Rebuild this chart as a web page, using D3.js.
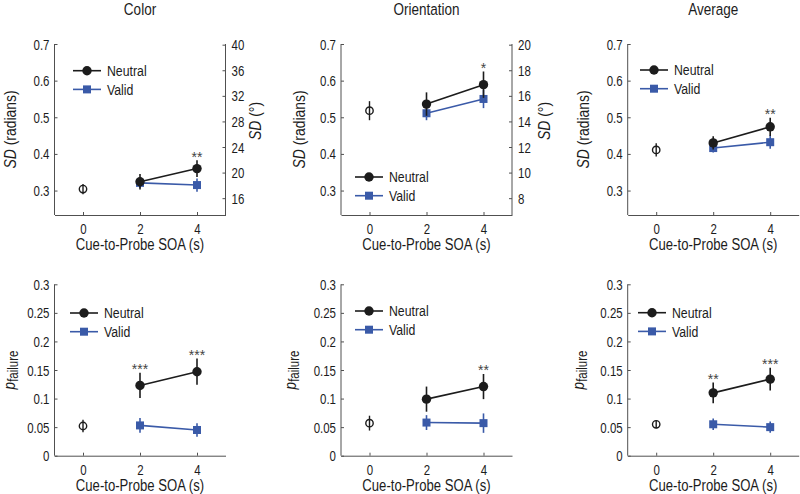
<!DOCTYPE html>
<html>
<head>
<meta charset="utf-8">
<script src="https://cdn.jsdelivr.net/npm/d3@7"></script>
<style>
  html, body { margin: 0; padding: 0; background: #fff; }
  svg { display: block; font-family: "Liberation Sans", Arial, sans-serif; }
</style>
</head>
<body>
<svg id="chart" width="800" height="494"></svg>
<script>
// ---------------- DATA ----------------
const panelTitles = ["Color", "Orientation", "Average"];
const soa = [2, 4];
const baselineX = 0;
const xTicks = [0, 2, 4];
const sdTicks = [0.3, 0.4, 0.5, 0.6, 0.7];
const pTicks = [0, 0.05, 0.1, 0.15, 0.2, 0.25, 0.3];
const pTickLabels = ["0", "0.05", "0.1", "0.15", "0.2", "0.25", "0.3"];
const degTicksColor = [16, 20, 24, 28, 32, 36, 40];
const degTicksOrientation = [8, 10, 12, 14, 16, 18, 20];
const seriesNames = ["Neutral", "Valid"];

// SD (radians) — top row
const sdBaseline = [0.304, 0.518, 0.411];
const sdBaselineErr = [0.014, 0.026, 0.018];
const sdNeutral = [[0.324, 0.360], [0.536, 0.589], [0.430, 0.474]];
const sdNeutralErr = [[0.021, 0.023], [0.032, 0.036], [0.018, 0.025]];
const sdValid = [[0.321, 0.315], [0.511, 0.550], [0.416, 0.432]];
const sdValidErr = [[0.014, 0.018], [0.019, 0.025], [0.012, 0.018]];
const sdStars = [["", "**"], ["", "*"], ["", "**"]];

// p_failure — bottom row
const pBaseline = [0.052, 0.057, 0.055];
const pBaselineErr = [0.011, 0.013, 0.007];
const pNeutral = [[0.123, 0.147], [0.099, 0.121], [0.110, 0.134]];
const pNeutralErr = [[0.022, 0.023], [0.022, 0.022], [0.018, 0.020]];
const pValid = [[0.053, 0.045], [0.058, 0.057], [0.055, 0.050]];
const pValidErr = [[0.013, 0.012], [0.013, 0.017], [0.010, 0.010]];
const pStars = [["***", "***"], ["", "**"], ["**", "***"]];

// ---------------- LAYOUT ----------------
const svg = d3.select("#chart");
const NARROW = 0.82;
const BLACK = "#1c1c1c";
const BLUE = "#3a5aa8";
const AXIS = "#505050";
const plotLefts = [54.5, 341, 627.7];
const plotW = 171;
const yLabelOffsets = [[38.5, 36, 39], [40, 45, 44]];

// condense text horizontally (Arial Narrow look)
function narrow(sel) {
  sel.each(function () {
    const t = d3.select(this);
    const x = +t.attr("x") || 0, y = +t.attr("y") || 0;
    const tr = t.attr("transform") || "";
    t.attr("x", 0).attr("y", 0).attr("transform", `${tr} translate(${x},${y}) scale(${NARROW},1)`);
  });
  return sel;
}

const rows = [
  { top: 44, bottom: 215, domain: [0.2333, 0.7], ticks: sdTicks, tickFmt: d3.format(".1f"),
    base: sdBaseline, baseErr: sdBaselineErr, neu: sdNeutral, neuErr: sdNeutralErr,
    val: sdValid, valErr: sdValidErr, stars: sdStars, label: "sd",
    legend: [[18.5, 26.7], [14, 133], [12.3, 26]] },
  { top: 284.3, bottom: 455.7, domain: [0, 0.3], ticks: pTicks, tickFmt: (d, i) => pTickLabels[i],
    base: pBaseline, baseErr: pBaselineErr, neu: pNeutral, neuErr: pNeutralErr,
    val: pValid, valErr: pValidErr, stars: pStars, label: "p",
    legend: [[15.5, 28.7], [14, 26.7], [10.3, 28.4]] }
];
const rightAxes = [
  { ticks: degTicksColor, factor: 180 / Math.PI, lab: 35 },
  { ticks: degTicksOrientation, factor: 90 / Math.PI, lab: 38 },
  null
];

// titles
panelTitles.forEach((t, i) => {
  narrow(svg.append("text").attr("x", plotLefts[i] + plotW / 2).attr("y", 15)
    .attr("text-anchor", "middle").attr("font-size", 16.5).attr("fill", BLACK).text(t));
});

rows.forEach((row, r) => {
  panelTitles.forEach((title, p) => {
    const left = plotLefts[p];
    const x = d3.scaleLinear().domain([-1, 5]).range([left, left + plotW]);
    const y = d3.scaleLinear().domain(row.domain).range([row.bottom, row.top]);
    const g = svg.append("g");

    // left axis
    const ax = g.append("g").attr("transform", `translate(${left},0)`)
      .call(d3.axisLeft(y).tickValues(row.ticks).tickSizeInner(-3).tickSizeOuter(0).tickPadding(5)
        .tickFormat(row.tickFmt));
    ax.attr("font-family", null).attr("font-size", null);
    ax.select(".domain").attr("stroke", AXIS).attr("d", `M0,${row.top}V${row.bottom}`);
    ax.selectAll(".tick line").attr("stroke", AXIS);
    narrow(ax.selectAll(".tick text").attr("font-size", 14).attr("fill", BLACK).attr("dy", "0.36em"));

    // bottom axis
    const bx = g.append("g").attr("transform", `translate(0,${row.bottom})`)
      .call(d3.axisBottom(x).tickValues(xTicks).tickSizeInner(-3).tickSizeOuter(0).tickPadding(19)
        .tickFormat(d3.format("d")));
    bx.attr("font-family", null).attr("font-size", null);
    bx.select(".domain").attr("stroke", AXIS);
    bx.selectAll(".tick line").attr("stroke", AXIS);
    narrow(bx.selectAll(".tick text").attr("font-size", 14).attr("fill", BLACK).attr("dy", "0"));

    // x label
    narrow(g.append("text").attr("x", left + plotW / 2).attr("y", row.bottom + 35)
      .attr("text-anchor", "middle").attr("font-size", 16).attr("fill", BLACK)
      .text("Cue-to-Probe SOA (s)"));

    // y label
    const yl = g.append("text")
      .attr("transform", `translate(${left - yLabelOffsets[r][p]},${(row.top + row.bottom) / 2}) rotate(-90) scale(${NARROW},1)`)
      .attr("text-anchor", "middle").attr("fill", BLACK);
    if (row.label === "sd") {
      yl.attr("font-size", 17);
      yl.append("tspan").attr("font-style", "italic").text("SD");
      yl.append("tspan").text(" (radians)");
    } else {
      yl.append("tspan").attr("font-style", "italic").attr("font-size", 16.5).text("p");
      yl.append("tspan").attr("font-size", 14).attr("dy", 3).text("failure");
    }

    // right axis (top row, color & orientation)
    const ra = r === 0 ? rightAxes[p] : null;
    if (ra) {
      const yd = d3.scaleLinear().domain(row.domain.map(v => v * ra.factor)).range([row.bottom, row.top]);
      const rx = g.append("g").attr("transform", `translate(${left + plotW},0)`)
        .call(d3.axisRight(yd).tickValues(ra.ticks).tickSizeInner(-3).tickSizeOuter(0).tickPadding(6));
      rx.attr("font-family", null).attr("font-size", null);
      rx.select(".domain").attr("stroke", AXIS).attr("d", `M0,${row.top}V${row.bottom}`);
      rx.selectAll(".tick line").attr("stroke", AXIS);
      narrow(rx.selectAll(".tick text").attr("font-size", 14).attr("fill", BLACK).attr("dy", "0.36em"));
      const rl = g.append("text")
        .attr("transform", `translate(${left + plotW + ra.lab},121) rotate(-90) scale(${NARROW},1)`)
        .attr("text-anchor", "middle").attr("font-size", 17).attr("fill", BLACK);
      rl.append("tspan").attr("font-style", "italic").text("SD");
      rl.append("tspan").text(" (°)");
    }

    // series (valid first so neutral draws on top)
    const series = [
      { vals: row.val[p], errs: row.valErr[p], color: BLUE, shape: "square" },
      { vals: row.neu[p], errs: row.neuErr[p], color: BLACK, shape: "circle" }
    ];
    series.forEach(s => {
      const pts = soa.map((d, i) => ({ x: d, y: s.vals[i], e: s.errs[i] }));
      g.append("path").datum(pts)
        .attr("d", d3.line().x(d => x(d.x)).y(d => y(d.y)))
        .attr("fill", "none").attr("stroke", s.color).attr("stroke-width", 1.6);
      g.selectAll(null).data(pts).enter().append("line")
        .attr("x1", d => x(d.x)).attr("x2", d => x(d.x))
        .attr("y1", d => y(d.y - d.e)).attr("y2", d => y(d.y + d.e))
        .attr("stroke", s.color).attr("stroke-width", 1.6);
      if (s.shape === "circle") {
        g.selectAll(null).data(pts).enter().append("circle")
          .attr("cx", d => x(d.x)).attr("cy", d => y(d.y)).attr("r", 4.7).attr("fill", s.color);
      } else {
        g.selectAll(null).data(pts).enter().append("rect")
          .attr("x", d => x(d.x) - 4).attr("y", d => y(d.y) - 4)
          .attr("width", 8).attr("height", 8).attr("fill", s.color);
      }
    });

    // baseline (open circle at SOA 0)
    g.append("line").attr("x1", x(baselineX)).attr("x2", x(baselineX))
      .attr("y1", y(row.base[p] - row.baseErr[p])).attr("y2", y(row.base[p] + row.baseErr[p]))
      .attr("stroke", BLACK).attr("stroke-width", 1.4);
    g.append("circle").attr("cx", x(baselineX)).attr("cy", y(row.base[p])).attr("r", 3.7)
      .attr("fill", "none").attr("stroke", BLACK).attr("stroke-width", 1.4);

    // significance stars
    soa.forEach((d, i) => {
      const st = row.stars[p][i];
      if (!st) return;
      g.append("text").attr("x", x(d)).attr("y", y(row.neu[p][i] + row.neuErr[p][i]) + 1.5)
        .attr("text-anchor", "middle").attr("font-size", 14).attr("fill", "#444").text(st);
    });

    // legend
    const [lx, ly] = row.legend[p];
    const lg = g.append("g").attr("transform", `translate(${left + lx},${row.top + ly})`);
    [{ name: seriesNames[0], color: BLACK, shape: "circle" },
     { name: seriesNames[1], color: BLUE, shape: "square" }].forEach((s, i) => {
      const yy = i * 18.7;
      lg.append("line").attr("x1", 0).attr("x2", 28).attr("y1", yy).attr("y2", yy)
        .attr("stroke", s.color).attr("stroke-width", 1.6);
      if (s.shape === "circle") lg.append("circle").attr("cx", 14).attr("cy", yy).attr("r", 4.7).attr("fill", s.color);
      else lg.append("rect").attr("x", 10).attr("y", yy - 4).attr("width", 8).attr("height", 8).attr("fill", s.color);
      narrow(lg.append("text").attr("x", 34).attr("y", yy).attr("dy", "0.36em")
        .attr("font-size", 15).attr("fill", BLACK).text(s.name));
    });
  });
});
</script>
</body>
</html>
